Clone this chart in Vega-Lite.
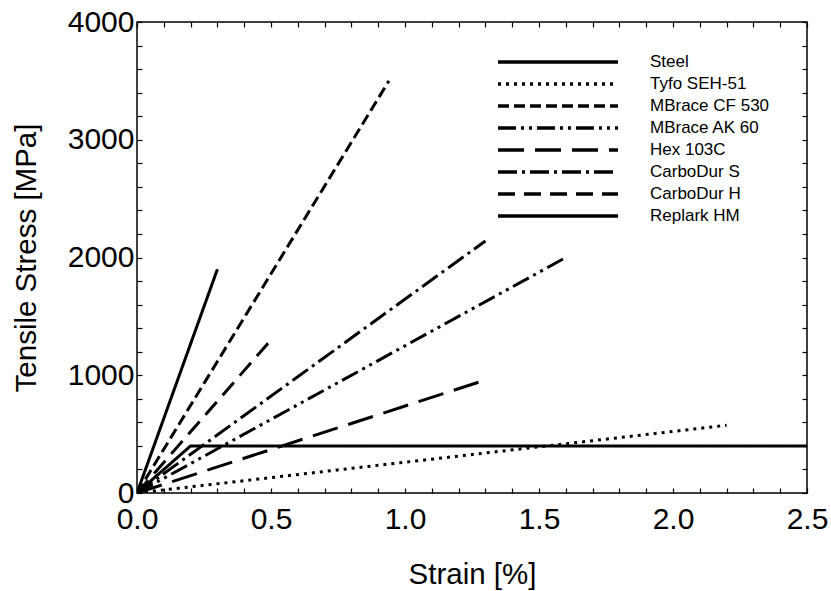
{
  "$schema": "https://vega.github.io/schema/vega-lite/v6.json",
  "autosize": "none",
  "width": 670,
  "height": 471,
  "padding": {"left": 137, "top": 22, "right": 24, "bottom": 98},
  "background": "white",
  "config": {
    "font": "Liberation Sans, Arial, sans-serif",
    "view": {"stroke": "black", "strokeWidth": 1.5},
    "axis": {"domain": false, "grid": false, "tickColor": "black", "tickWidth": 1.2, "tickSize": -5, "labelColor": "black", "titleColor": "black", "labelFontSize": 30, "titleFontSize": 29.5, "titleFontWeight": "normal", "labelFlush": false, "labelOverlap": false}
  },
  "data": {
    "values": [
      {"material": "Steel", "strain": 0, "stress": 0},
      {"material": "Steel", "strain": 0.2, "stress": 400},
      {"material": "Steel", "strain": 2.5, "stress": 400},
      {"material": "Tyfo SEH-51", "strain": 0, "stress": 0},
      {"material": "Tyfo SEH-51", "strain": 2.2, "stress": 575},
      {"material": "MBrace CF 530", "strain": 0, "stress": 0},
      {"material": "MBrace CF 530", "strain": 0.94, "stress": 3500},
      {"material": "MBrace AK 60", "strain": 0, "stress": 0},
      {"material": "MBrace AK 60", "strain": 1.6, "stress": 2000},
      {"material": "Hex 103C", "strain": 0, "stress": 0},
      {"material": "Hex 103C", "strain": 1.3, "stress": 960},
      {"material": "CarboDur S", "strain": 0, "stress": 0},
      {"material": "CarboDur S", "strain": 1.3, "stress": 2140},
      {"material": "CarboDur H", "strain": 0, "stress": 0},
      {"material": "CarboDur H", "strain": 0.5, "stress": 1300},
      {"material": "Replark HM", "strain": 0, "stress": 0},
      {"material": "Replark HM", "strain": 0.3, "stress": 1900}
    ]
  },
  "layer": [
    {
      "mark": {"type": "line", "color": "black", "strokeWidth": 3, "clip": true},
      "encoding": {
        "x": {"field": "strain", "type": "quantitative", "scale": {"domain": [0, 2.5], "nice": false, "zero": false},
          "axis": {"orient": "bottom", "title": "Strain [%]", "values": [0,0.1,0.2,0.3,0.4,0.5,0.6,0.7,0.8,0.9,1.0,1.1,1.2,1.3,1.4,1.5,1.6,1.7,1.8,1.9,2.0,2.1,2.2,2.3,2.4,2.5], "labelExpr": "datum.value % 0.5 == 0 ? format(datum.value, '.1f') : ''", "labelPadding": 16, "titlePadding": 26}},
        "y": {"field": "stress", "type": "quantitative", "scale": {"domain": [0, 4000], "nice": false},
          "axis": {"orient": "left", "title": "Tensile Stress [MPa]", "values": [0,200,400,600,800,1000,1200,1400,1600,1800,2000,2200,2400,2600,2800,3000,3200,3400,3600,3800,4000], "labelExpr": "datum.value % 1000 == 0 ? format(datum.value, 'd') : ''", "labelPadding": 8, "titlePadding": 26}},
        "strokeDash": {"field": "material", "type": "nominal",
          "scale": {"domain": ["Steel", "Tyfo SEH-51", "MBrace CF 530", "MBrace AK 60", "Hex 103C", "CarboDur S", "CarboDur H", "Replark HM"],
            "range": [[1, 0], [3, 5], [11, 5], [18, 5, 3, 5, 3, 5], [26, 11], [19, 5, 3, 5], [17, 9], [1, 0]]},
          "legend": {"orient": "none", "legendX": 359, "legendY": 29, "title": null, "symbolType": "stroke", "symbolSize": 14400, "symbolStrokeWidth": 3.5, "symbolStrokeColor": "black", "clipHeight": 22, "rowPadding": 0, "labelOffset": 30, "labelFontSize": 17, "labelColor": "black", "padding": 0}}
      }
    },
    {
      "mark": {"type": "line", "strokeOpacity": 0},
      "encoding": {
        "x": {"field": "strain", "type": "quantitative", "axis": {"orient": "top", "title": null, "labels": false, "values": [0,0.1,0.2,0.3,0.4,0.5,0.6,0.7,0.8,0.9,1.0,1.1,1.2,1.3,1.4,1.5,1.6,1.7,1.8,1.9,2.0,2.1,2.2,2.3,2.4,2.5]}},
        "y": {"field": "stress", "type": "quantitative", "axis": {"orient": "right", "title": null, "labels": false, "values": [0,200,400,600,800,1000,1200,1400,1600,1800,2000,2200,2400,2600,2800,3000,3200,3400,3600,3800,4000]}},
        "detail": {"field": "material"}
      }
    }
  ],
  "resolve": {"axis": {"x": "independent", "y": "independent"}}
}
